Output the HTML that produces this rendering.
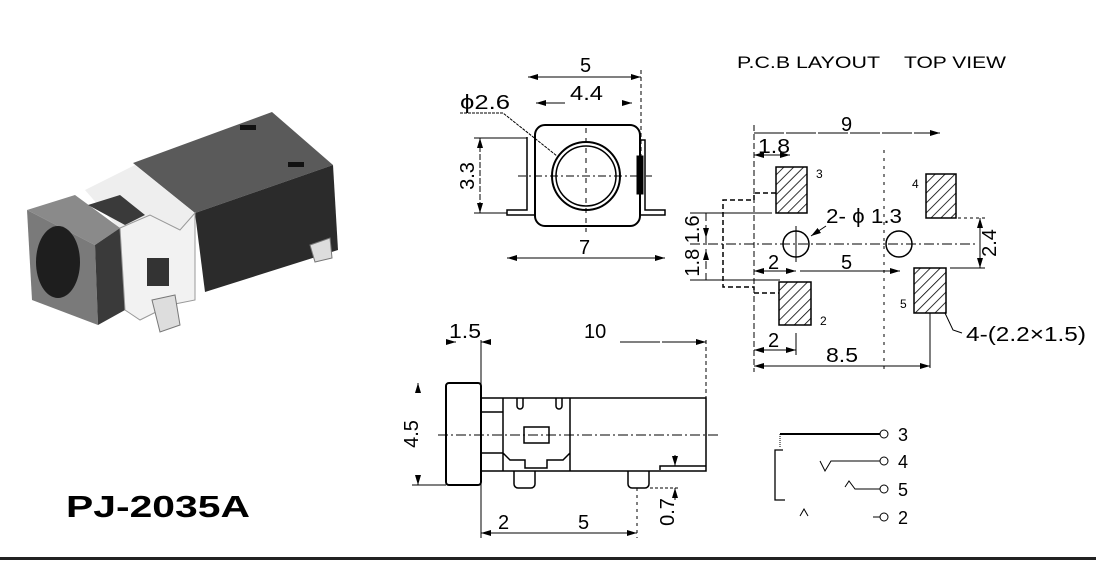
<!DOCTYPE html>
<html><head><meta charset="utf-8"><style>
html,body{margin:0;padding:0;background:#fff;}
svg{display:block;font-family:"Liberation Sans",sans-serif;}
</style></head><body>
<svg width="1096" height="564" viewBox="0 0 1096 564" xmlns="http://www.w3.org/2000/svg">
<defs>
<marker id="a" markerWidth="10" markerHeight="6" refX="10" refY="3" orient="auto-start-reverse" markerUnits="userSpaceOnUse"><path d="M0,0 L10,3 L0,6 z" fill="#000"/></marker>
<pattern id="h" width="7" height="7" patternUnits="userSpaceOnUse" patternTransform="rotate(45)"><rect width="7" height="7" fill="#fff"/><line x1="0" y1="0" x2="0" y2="7" stroke="#000" stroke-width="1.6"/></pattern>
</defs>
<g stroke="#000" fill="none" stroke-width="1">
<!-- ===== PHOTO ===== -->
<g stroke="none">
<polygon points="133,163 272,112 333,165 195,213" fill="#5a5a5a"/>
<polygon points="195,213 333,165 338,250 205,292" fill="#2b2b2b"/>
<polygon points="85,190 135,165 195,213 180,230 150,215 120,230" fill="#eee"/>
<polygon points="27,210 75,195 120,228 95,245" fill="#8a8a8a"/>
<polygon points="27,210 95,245 98,325 32,300" fill="#7a7a7a"/>
<ellipse cx="58" cy="262" rx="22" ry="36" fill="#1e1e1e"/>
<polygon points="95,245 120,228 125,310 98,325" fill="#3a3a3a"/>
<polygon points="120,228 150,215 180,230 195,213 195,300 170,305 140,320 125,310" fill="#f2f2f2" stroke="#999" stroke-width="1"/>
<polygon points="88,205 120,195 145,215 125,225" fill="#3a3a3a"/>
<rect x="147" y="258" width="22" height="28" fill="#333"/>
<polygon points="152,300 175,295 180,325 160,332" fill="#ddd" stroke="#777"/>
<polygon points="310,245 330,238 332,258 315,262" fill="#ddd" stroke="#777"/>
<rect x="240" y="125" width="16" height="5" fill="#111"/>
<rect x="288" y="162" width="16" height="5" fill="#111"/>
</g>
<text x="66" y="517" font-size="31" font-weight="bold" fill="#000" stroke="none" textLength="184" lengthAdjust="spacingAndGlyphs">PJ-2035A</text>

<!-- ===== FRONT VIEW ===== -->
<rect x="535" y="125" width="105" height="101" rx="10" stroke-width="2"/>
<path d="M527,137 V210 H507 V215 H535 M640,140 H645 V210 H665 V215 H640" stroke-width="1.5"/>
<rect x="637" y="156" width="6" height="38" fill="#000"/>
<circle cx="586" cy="176" r="34" stroke-width="2"/>
<circle cx="586" cy="176" r="30" stroke-width="1.5"/>
<line x1="518" y1="176" x2="652" y2="176" stroke-dasharray="8,3,2,3"/>
<line x1="586" y1="128" x2="586" y2="232" stroke-dasharray="5,5"/>
<line x1="528" y1="77" x2="641" y2="77" marker-start="url(#a)" marker-end="url(#a)"/>
<line x1="641" y1="70" x2="641" y2="165" stroke-dasharray="4,3"/>
<line x1="536" y1="103" x2="565" y2="103" marker-start="url(#a)"/>
<line x1="625" y1="103" x2="632" y2="103" marker-end="url(#a)"/>
<line x1="480" y1="138" x2="480" y2="213" marker-start="url(#a)" marker-end="url(#a)" stroke-dasharray="6,2"/>
<line x1="474" y1="138" x2="527" y2="138"/>
<line x1="474" y1="213" x2="507" y2="213"/>
<line x1="507" y1="258" x2="665" y2="258" marker-start="url(#a)" marker-end="url(#a)"/>
<polyline points="460,113 503,113 557,156" stroke-dasharray="3,1"/>
<g fill="#000" stroke="none" font-size="20">
<text x="580" y="72">5</text>
<text x="570" y="100" textLength="33" lengthAdjust="spacingAndGlyphs">4.4</text>
<text x="579" y="254">7</text>
<text x="460" y="109" textLength="50" lengthAdjust="spacingAndGlyphs">ϕ2.6</text>
<text transform="translate(474,176) rotate(-90)" text-anchor="middle">3.3</text>
</g>

<!-- ===== PCB LAYOUT ===== -->
<text x="737" y="68" font-size="17" fill="#000" stroke="none" textLength="143" lengthAdjust="spacingAndGlyphs">P.C.B LAYOUT</text>
<text x="904" y="68" font-size="17" fill="#000" stroke="none" textLength="102" lengthAdjust="spacingAndGlyphs">TOP VIEW</text>
<line x1="754" y1="125" x2="754" y2="372" stroke-dasharray="6,3"/>
<line x1="754" y1="133" x2="940" y2="133" marker-end="url(#a)" stroke-dasharray="30,2"/>
<line x1="754" y1="155" x2="790" y2="155" marker-start="url(#a)" marker-end="url(#a)"/>
<line x1="690" y1="244" x2="975" y2="244" stroke-dasharray="10,3,2,3"/>
<rect x="776" y="167" width="31" height="46" fill="url(#h)" stroke-width="1.5"/>
<rect x="926" y="174" width="30" height="44" fill="url(#h)" stroke-width="1.5"/>
<rect x="779" y="282" width="32" height="43" fill="url(#h)" stroke-width="1.5"/>
<rect x="914" y="268" width="32" height="45" fill="url(#h)" stroke-width="1.5"/>
<circle cx="796" cy="244" r="13" stroke-width="1.5"/>
<circle cx="899" cy="244" r="13" stroke-width="1.5"/>
<line x1="796" y1="226" x2="796" y2="262"/>
<line x1="884" y1="150" x2="884" y2="372" stroke-dasharray="3,5"/>
<polyline points="776,193 754,193 754,200 723,200 723,287 754,287 754,293 779,293" stroke-dasharray="5,3" stroke-width="1.5"/>
<line x1="690" y1="213" x2="772" y2="213"/>
<line x1="690" y1="280" x2="780" y2="280"/>
<line x1="706" y1="213" x2="706" y2="280" stroke-dasharray="8,4"/>
<line x1="706" y1="230" x2="706" y2="238" marker-end="url(#a)"/>
<line x1="706" y1="258" x2="706" y2="250" marker-end="url(#a)"/>
<line x1="946" y1="218" x2="985" y2="218" stroke-dasharray="3,3"/>
<line x1="950" y1="268" x2="985" y2="268"/>
<line x1="980" y1="218" x2="980" y2="268" marker-start="url(#a)" marker-end="url(#a)"/>
<line x1="754" y1="271" x2="796" y2="271" marker-start="url(#a)" marker-end="url(#a)"/>
<line x1="800" y1="271" x2="900" y2="271" marker-end="url(#a)"/>
<line x1="811" y1="236" x2="826" y2="226" marker-start="url(#a)"/>
<line x1="754" y1="350" x2="796" y2="350" marker-start="url(#a)" marker-end="url(#a)"/>
<line x1="796" y1="333" x2="796" y2="355"/>
<line x1="754" y1="366" x2="930" y2="366" marker-start="url(#a)" marker-end="url(#a)"/>
<line x1="930" y1="313" x2="930" y2="368"/>
<polyline points="945,313 953,330 962,333"/>
<g fill="#000" stroke="none" font-size="20">
<text x="841" y="131">9</text>
<text x="758" y="153" textLength="32" lengthAdjust="spacingAndGlyphs">1.8</text>
<text x="816" y="178" font-size="12">3</text>
<text x="912" y="188" font-size="12">4</text>
<text x="820" y="325" font-size="12">2</text>
<text x="900" y="308" font-size="12">5</text>
<text x="826" y="223" textLength="76" lengthAdjust="spacingAndGlyphs">2- ϕ 1.3</text>
<text x="768" y="269">2</text>
<text x="841" y="269">5</text>
<text x="768" y="347">2</text>
<text x="826" y="362" textLength="32" lengthAdjust="spacingAndGlyphs">8.5</text>
<text x="966" y="341" textLength="120" lengthAdjust="spacingAndGlyphs">4-(2.2×1.5)</text>
<text transform="translate(996,243) rotate(-90)" text-anchor="middle">2.4</text>
<text transform="translate(699,246) rotate(-90)" text-anchor="middle">1.8 1.6</text>
</g>

<!-- ===== SIDE VIEW ===== -->
<rect x="446" y="383" width="35" height="102" rx="3" stroke-width="2"/>
<path d="M481,398 H706 V471 H481 M570,398 V471 M503,398 V471 M481,412 H503 M481,453 H503 L510,460 H525 V468 H547 V460 H563 L570,453" stroke-width="1.5"/>
<path d="M517,398 v8 a3,3 0 0 0 6,0 v-8 M556,398 v8 a3,3 0 0 0 6,0 v-8" stroke-width="1.5"/>
<rect x="524" y="427" width="25" height="16" stroke-width="1.5"/>
<path d="M514,471 v13 a4,4 0 0 0 4,4 h13 a4,4 0 0 0 4,-4 v-13 M628,471 v13 a4,4 0 0 0 4,4 h13 a4,4 0 0 0 4,-4 v-13" stroke-width="1.5"/>
<path d="M660,470 V466 H706" stroke-width="1.5"/>
<line x1="438" y1="435" x2="718" y2="435" stroke-dasharray="10,3,2,3"/>
<line x1="481" y1="340" x2="481" y2="538"/>
<line x1="706" y1="340" x2="706" y2="412" stroke-dasharray="4,3"/>
<line x1="446" y1="342" x2="456" y2="342" marker-end="url(#a)"/>
<line x1="490" y1="342" x2="481" y2="342" marker-end="url(#a)"/>
<line x1="620" y1="342" x2="706" y2="342" marker-end="url(#a)" stroke-dasharray="40,2"/>
<line x1="418" y1="388" x2="418" y2="383" marker-end="url(#a)"/>
<line x1="418" y1="480" x2="418" y2="485" marker-end="url(#a)"/>
<line x1="412" y1="485" x2="446" y2="485"/>
<line x1="481" y1="533" x2="637" y2="533" marker-start="url(#a)" marker-end="url(#a)"/>
<line x1="637" y1="488" x2="637" y2="538" stroke-dasharray="3,4"/>
<line x1="650" y1="488" x2="680" y2="488" stroke-dasharray="3,2"/>
<line x1="675" y1="455" x2="675" y2="466" marker-end="url(#a)"/>
<line x1="675" y1="500" x2="675" y2="488" marker-end="url(#a)"/>
<g fill="#000" stroke="none" font-size="20">
<text x="449" y="338" textLength="32" lengthAdjust="spacingAndGlyphs">1.5</text>
<text x="584" y="338">10</text>
<text x="498" y="529">2</text>
<text x="578" y="529">5</text>
<text transform="translate(418,434) rotate(-90)" text-anchor="middle">4.5</text>
<text transform="translate(674,512) rotate(-90)" text-anchor="middle">0.7</text>
</g>

<!-- ===== SCHEMATIC ===== -->
<line x1="780" y1="434" x2="880" y2="434" stroke-width="2"/>
<line x1="780" y1="434" x2="780" y2="447" stroke-dasharray="1,1"/>
<polyline points="783,450 775,450 775,500 785,500" stroke-width="1.3"/>
<polyline points="820,461 825,471 831,461 880,461"/>
<polyline points="845,487 849,481 855,489 880,489"/>
<polyline points="800,516 804,509 808,516"/>
<line x1="873" y1="517" x2="880" y2="517"/>
<circle cx="884" cy="434" r="4"/>
<circle cx="884" cy="461" r="4"/>
<circle cx="884" cy="489" r="4"/>
<circle cx="884" cy="517" r="4"/>
<g fill="#000" stroke="none" font-size="18">
<text x="898" y="441">3</text>
<text x="898" y="468">4</text>
<text x="898" y="496">5</text>
<text x="898" y="524">2</text>
</g>
</g>
<rect x="0" y="557" width="1096" height="3" fill="#222"/>
</svg>
</body></html>
